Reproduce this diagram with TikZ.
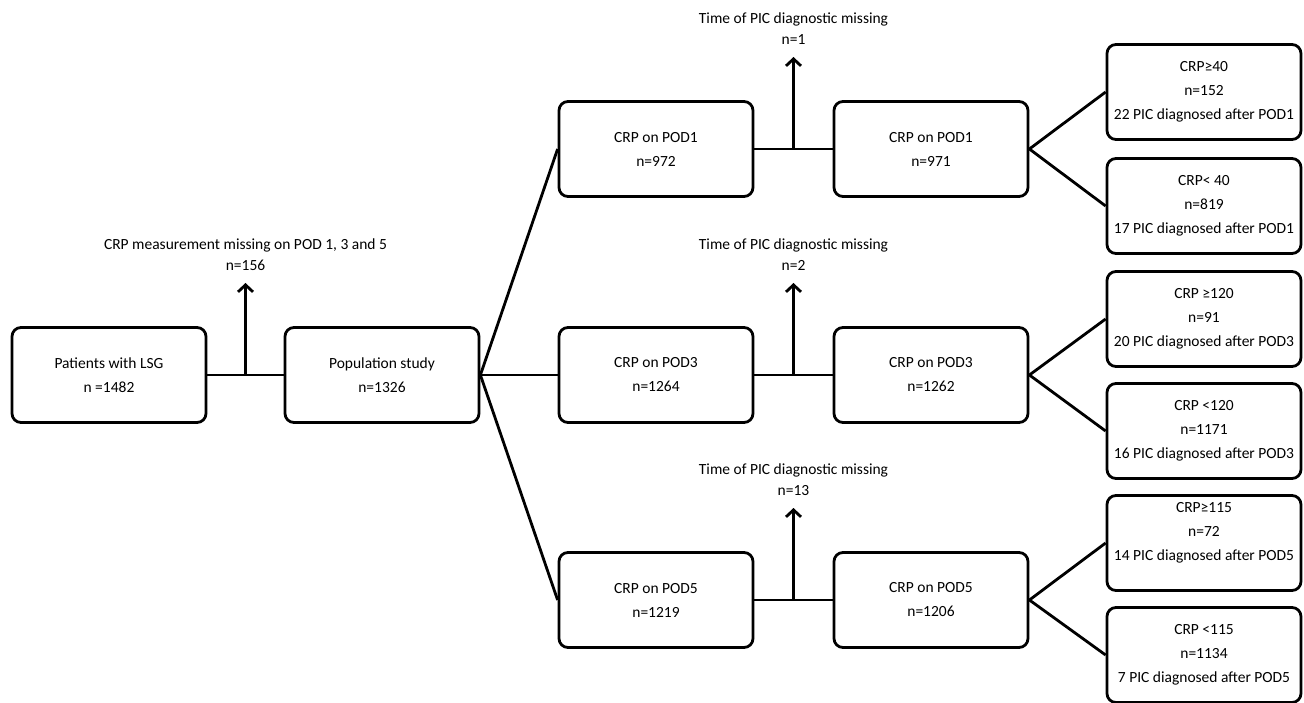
\documentclass[tikz,border=0pt]{standalone}
\usepackage{fontspec}
\setmainfont{Carlito}
\usetikzlibrary{positioning,calc,arrows.meta}
\tikzset{
box/.style={
  draw,
  line width=2.8pt,
  rounded corners=9pt,
  minimum width=194pt,
  minimum height=95pt,
  align=center,
  font=\fontsize{15.5}{24}\selectfont
  },
raised/.style={text depth=24pt},
link/.style={line width=2.8pt, line join=round},
drop/.style={line width=2.8pt, -{Straight Barb[length=7pt,width=15pt]}},
note/.style={align=center, inner sep=0pt, font=\fontsize{15.5}{21}\selectfont},
%title/.style={font=\small}
}

\begin{document}
\begin{tikzpicture}[x=1pt,y=-1pt]
    \useasboundingbox (0,0) rectangle (1304,703);
    \node [box] (lsg) at (109,375) {Patients with LSG\\n =1482};
    \node [box] (pop) at (382,375) {Population study\\n=1326};
    \draw [link] (lsg) -- (pop);
    \draw [drop] ($(lsg.east)!0.5!(pop.west)$) -- ++(0,-92) coordinate (t0);
    \node [note, above=12pt of t0] (miss0) {CRP measurement missing on POD 1, 3 and 5\\n=156};
    % one row per day
    \foreach \r/\ya/\na/\nb/\nm in {1/149/972/971/1, 3/375/1264/1262/2, 5/600/1219/1206/13}
    {
        \node [box] (a\r) at (656,\ya) {CRP on POD\r\\n=\na};
        \node [box] (b\r) at (931,\ya) {CRP on POD\r\\n=\nb};
        \draw [link] (pop.east) -- (a\r.west);
        \draw [link] (a\r) -- (b\r);
        \draw [drop] ($(a\r.east)!0.5!(b\r.west)$) -- ++(0,-92) coordinate (t\r);
        \node [note, above=12pt of t\r] (miss\r) {Time of PIC diagnostic missing\\n=\nm};
    }
    % split on the cut-off
    \foreach \r/\yh/\yl/\ch/\cl/\nh/\nl/\ph/\pl/\xs in {%
        1/92/206/{CRP≥40}/{CRP< 40}/152/819/22/17/{},
        3/319/431/{CRP ≥120}/{CRP <120}/91/1171/20/16/{},
        5/543/655/{CRP≥115}/{CRP <115}/72/1134/14/7/raised}
    {
        \node [box, \xs] (h\r) at (1204,\yh) {\ch\\n=\nh\\\ph{} PIC diagnosed after POD\r};
        \node [box] (l\r) at (1204,\yl) {\cl\\n=\nl\\\pl{} PIC diagnosed after POD\r};
        \draw [link] (h\r.west) -- (b\r.east) -- (l\r.west);
    }
\end{tikzpicture}
\end{document}
